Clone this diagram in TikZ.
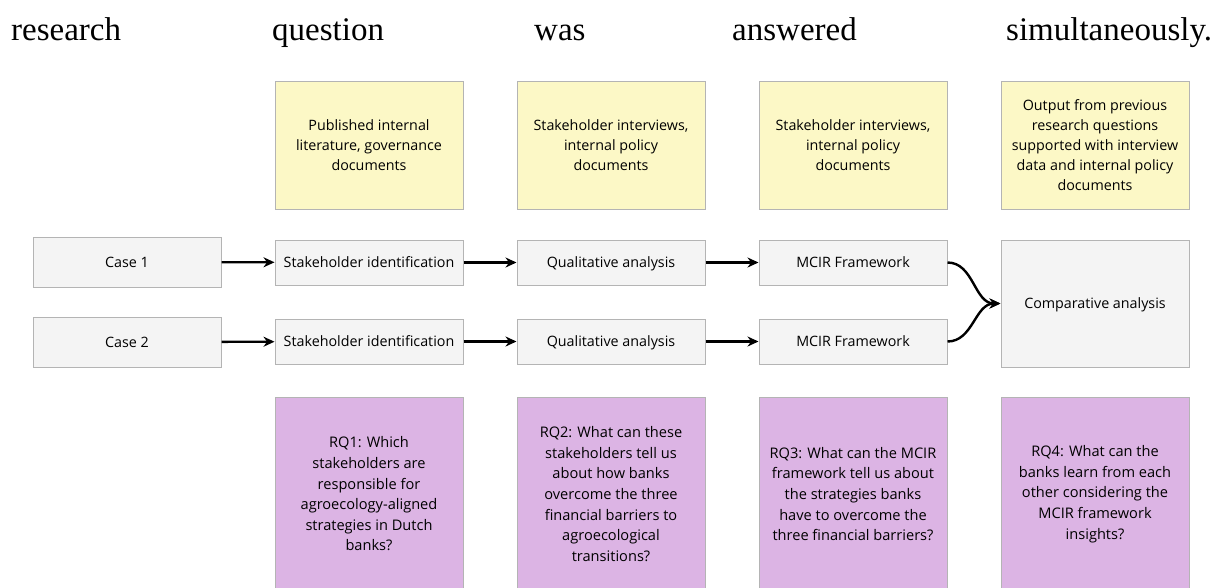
\documentclass[tikz,border=0pt]{standalone}
\usepackage{fontspec}
\setmainfont{Open Sans}
\newfontfamily\thesisfont{Liberation Serif}
\usetikzlibrary{arrows.meta}
\definecolor{boxgrey}{HTML}{F4F4F4}
\definecolor{edgegrey}{HTML}{B4B4B4}
\definecolor{srcyellow}{HTML}{FCF8C6}
\definecolor{rqpurple}{HTML}{DCB4E4}

\begin{document}
\begin{tikzpicture}[x=1pt,y=-1pt,
  stepbox/.style={draw=edgegrey, fill=boxgrey, line width=1pt, minimum width=188pt,
    minimum height=45pt, inner sep=0pt, align=center, font=\fontsize{14.3}{20}\selectfont},
  oneline/.style={text height=12.5pt, text depth=2pt},
  casebox/.style={stepbox, oneline, minimum height=50pt},
  srcbox/.style={stepbox, fill=srcyellow, minimum height=128pt},
  rqbox/.style={stepbox, fill=rqpurple, minimum height=194pt, font=\fontsize{14.6}{20.6}\selectfont},
  word/.style={anchor=base west, inner sep=0pt, font=\thesisfont\fontsize{33}{38}\selectfont},
  flow/.style={-{Stealth[length=11pt,width=10pt]}, line width=2.4pt}]
  \useasboundingbox (0,0) rectangle (1225,587);

  % sentence tail above the figure
  \node[word] (w1) at (11,40) {research};
  \node[word] (w2) at (272,40) {question};
  \node[word] (w3) at (534,40) {was};
  \node[word] (w4) at (732,40) {answered};
  \node[word] (w5) at (1006,40) {simultaneously.};

  % data sources
  \node[srcbox] (src1) at (369,145) {Published internal\\literature, governance\\documents};
  \node[srcbox] (src2) at (611,145) {Stakeholder interviews,\\internal policy\\documents};
  \node[srcbox] (src3) at (853,145) {Stakeholder interviews,\\internal policy\\documents};
  \node[srcbox] (src4) at (1095,145) {Output from previous\\research questions\\supported with interview\\data and internal policy\\documents};

  % case rows
  \node[casebox] (case1) at (127,262) {Case 1};
  \node[casebox] (case2) at (127,342) {Case 2};
  \foreach \r/\y in {1/262.5, 2/341.5} {
    \node[stepbox, oneline] (sid\r) at (369,\y) {Stakeholder identification};
    \node[stepbox, oneline] (qual\r) at (611,\y) {Qualitative analysis};
    \node[stepbox, oneline] (mcir\r) at (853,\y) {MCIR Framework};
    \draw[flow] (case\r) -- (sid\r);
    \draw[flow] (sid\r) -- (qual\r);
    \draw[flow] (qual\r) -- (mcir\r);
  }
  \node[stepbox, oneline, minimum height=127pt] (comp) at (1095,303.5) {Comparative analysis};
  \draw[flow] (mcir1.east) to[out=0, in=180] (comp.west);
  \draw[flow] (mcir2.east) to[out=0, in=180] (comp.west);

  % research questions
  \node[rqbox] (rq1) at (369,494) {RQ1: Which\\stakeholders are\\responsible for\\agroecology-aligned\\strategies in Dutch\\banks?};
  \node[rqbox] (rq2) at (611,494) {RQ2: What can these\\stakeholders tell us\\about how banks\\overcome the three\\financial barriers to\\agroecological\\transitions?};
  \node[rqbox] (rq3) at (853,494) {RQ3: What can the MCIR\\framework tell us about\\the strategies banks\\have to overcome the\\three financial barriers?};
  \node[rqbox] (rq4) at (1095,494) {RQ4: What can the\\banks learn from each\\other considering the\\MCIR framework\\insights?};
\end{tikzpicture}
\end{document}
